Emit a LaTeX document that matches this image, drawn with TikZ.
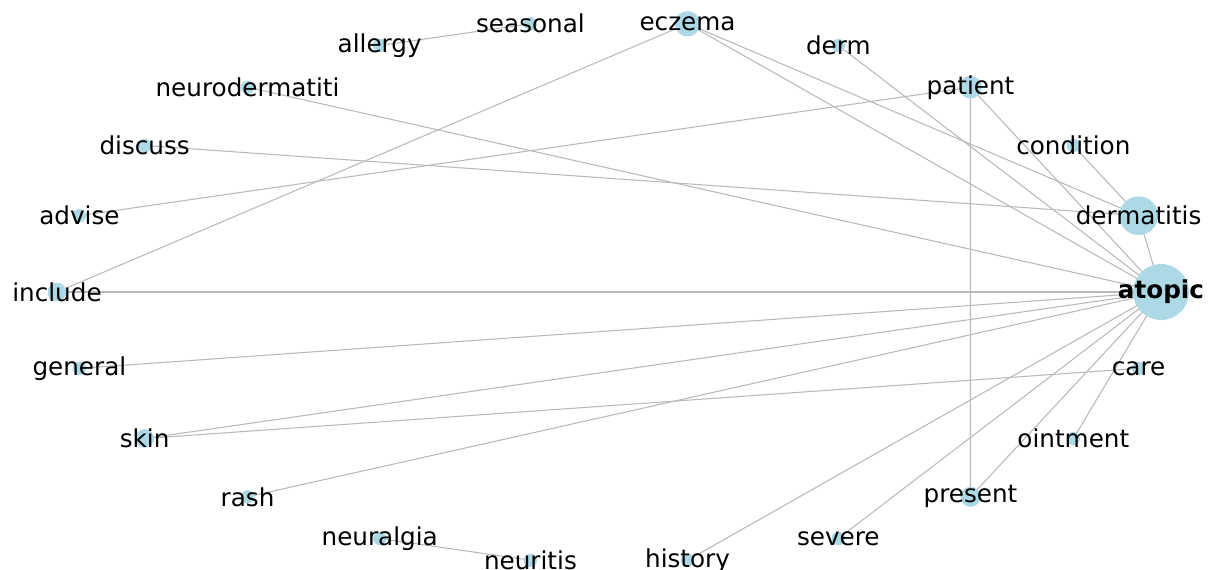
\documentclass[tikz,border=0pt]{standalone}
\usepackage{fontspec}
\setmainfont{DejaVu Sans}
\definecolor{nodeblue}{RGB}{173,216,230}
\definecolor{edgegray}{RGB}{185,185,185}
\tikzset{
  conn/.style={draw=edgegray, line width=0.8pt},
  dot/.style={circle, fill=nodeblue, inner sep=0pt, minimum size=#1},
  dot/.default=10,
  lab/.style={inner sep=0pt, text=black, font=\fontsize{18.5pt}{20pt}\selectfont},
  boldlab/.style={lab, font=\fontsize{18.5pt}{20pt}\selectfont\bfseries}
}
\begin{document}
\begin{tikzpicture}[x=0.75pt,y=-0.75pt]
\useasboundingbox (0,0) rectangle (1208,569);
% positions (circular layout)
\foreach \nm [count=\i from 0] in {atopic,dermatitis,condition,patient,derm,eczema,seasonal,allergy,neurodermatiti,discuss,advise,include,general,skin,rash,neuralgia,neuritis,history,severe,present,ointment,care}
  \coordinate (\nm) at ({609+552*cos(16.363636*\i)},{292-271*sin(16.363636*\i)});
% edges
\draw[conn] (seasonal) -- (allergy);
\draw[conn] (neuralgia) -- (neuritis);
\draw[conn] (eczema) -- (include);
\draw[conn] (eczema) -- (atopic);
\draw[conn] (eczema) -- (dermatitis);
\draw[conn] (derm) -- (atopic);
\draw[conn] (neurodermatiti) -- (atopic);
\draw[conn] (patient) -- (advise);
\draw[conn] (patient) -- (present);
\draw[conn] (patient) -- (atopic);
\draw[conn] (condition) -- (dermatitis);
\draw[conn] (dermatitis) -- (atopic);
\draw[conn] (discuss) -- (dermatitis);
\draw[conn] (include) -- (atopic);
\draw[conn] (general) -- (atopic);
\draw[conn] (skin) -- (atopic);
\draw[conn] (skin) -- (care);
\draw[conn] (rash) -- (atopic);
\draw[conn] (history) -- (atopic);
\draw[conn] (severe) -- (atopic);
\draw[conn] (present) -- (atopic);
\draw[conn] (ointment) -- (atopic);
% node circles
\node[dot=42] (c-atopic) at (atopic) {};
\node[dot=29] (c-dermatitis) at (dermatitis) {};
\node[dot=10] (c-condition) at (condition) {};
\node[dot=17] (c-patient) at (patient) {};
\node[dot=10] (c-derm) at (derm) {};
\node[dot=19] (c-eczema) at (eczema) {};
\node[dot=10] (c-seasonal) at (seasonal) {};
\node[dot=10] (c-allergy) at (allergy) {};
\node[dot=10] (c-neurodermatiti) at (neurodermatiti) {};
\node[dot=10] (c-discuss) at (discuss) {};
\node[dot=10] (c-advise) at (advise) {};
\node[dot=14] (c-include) at (include) {};
\node[dot=10] (c-general) at (general) {};
\node[dot=14] (c-skin) at (skin) {};
\node[dot=10] (c-rash) at (rash) {};
\node[dot=10] (c-neuralgia) at (neuralgia) {};
\node[dot=10] (c-neuritis) at (neuritis) {};
\node[dot=10] (c-history) at (history) {};
\node[dot=10] (c-severe) at (severe) {};
\node[dot=15] (c-present) at (present) {};
\node[dot=10] (c-ointment) at (ointment) {};
\node[dot=10] (c-care) at (care) {};
% labels
\node[boldlab] (l-atopic) at (atopic) {atopic};
\node[lab] (l-dermatitis) at (dermatitis) {dermatitis};
\node[lab] (l-condition) at (condition) {condition};
\node[lab] (l-patient) at (patient) {patient};
\node[lab] (l-derm) at (derm) {derm};
\node[lab] (l-eczema) at (eczema) {eczema};
\node[lab] (l-seasonal) at (seasonal) {seasonal};
\node[lab] (l-allergy) at (allergy) {allergy};
\node[lab] (l-neurodermatiti) at (neurodermatiti) {neurodermatiti};
\node[lab] (l-discuss) at (discuss) {discuss};
\node[lab] (l-advise) at (advise) {advise};
\node[lab] (l-include) at (include) {include};
\node[lab] (l-general) at (general) {general};
\node[lab] (l-skin) at (skin) {skin};
\node[lab] (l-rash) at (rash) {rash};
\node[lab] (l-neuralgia) at (neuralgia) {neuralgia};
\node[lab] (l-neuritis) at (neuritis) {neuritis};
\node[lab] (l-history) at (history) {history};
\node[lab] (l-severe) at (severe) {severe};
\node[lab] (l-present) at (present) {present};
\node[lab] (l-ointment) at (ointment) {ointment};
\node[lab] (l-care) at (care) {care};
\end{tikzpicture}
\end{document}
